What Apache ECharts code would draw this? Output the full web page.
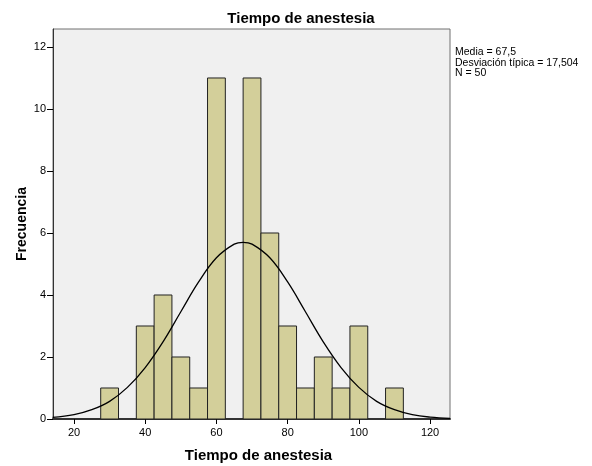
<!DOCTYPE html>
<html>
<head lang="es">
    <meta charset="UTF-8">
    <title>Tiempo de anestesia</title>
    <script src="https://cdn.jsdelivr.net/npm/echarts@6/dist/echarts.min.js"></script>
    <style>
        html, body { margin: 0; padding: 0; background: #fff; }
        #hist { width: 592px; height: 466px; }
    </style>
</head>
<body>
<div id="hist"></div>
<script>
    // histogram bins (lower edge, upper edge) and counts
    var binLo = [27.5, 37.5, 42.5, 47.5, 52.5, 57.5, 67.5, 72.5, 77.5, 82.5, 87.5, 92.5, 97.5, 107.5];
    var binHi = [32.5, 42.5, 47.5, 52.5, 57.5, 62.5, 72.5, 77.5, 82.5, 87.5, 92.5, 97.5, 102.5, 112.5];
    var counts = [1, 3, 4, 2, 1, 11, 11, 6, 3, 1, 2, 1, 3, 1];

    // normal curve
    var curveX = [14, 20, 25, 30, 35, 40, 45, 50, 55, 60, 65, 67.5, 70, 75, 80, 85, 90, 95, 100, 105, 110, 115, 120, 125.6];
    var curveY = [0.05, 0.14, 0.30, 0.57, 1.02, 1.66, 2.49, 3.46, 4.42, 5.20, 5.64, 5.70, 5.64, 5.20, 4.42, 3.46, 2.49, 1.66, 1.02, 0.57, 0.30, 0.14, 0.06, 0.02];

    var xTicks = [20, 40, 60, 80, 100, 120];
    var statsLines = ['Media = 67,5', 'Desviación típica = 17,504', 'N = 50'];

    var barData = [];
    counts.forEach(function(c, i){
        barData.push([binLo[i], binHi[i], c]);
    });
    var lineData = [];
    curveX.forEach(function(x, i){
        lineData.push([x, curveY[i]]);
    });

    var chart = echarts.init(document.getElementById('hist'));
    var option = {
        animation: false,
        textStyle: { fontFamily: 'Liberation Sans, Arial, sans-serif' },
        title: {
            text: 'Tiempo de anestesia',
            left: 296, top: 6, textAlign: 'center',
            textStyle: { fontSize: 15, fontWeight: 'bold', color: '#000' }
        },
        graphic: [{
            type: 'text', left: 455, top: 47,
            style: { text: statsLines.join('\n'), fontSize: 10.5, lineHeight: 10.5, fill: '#000', fontFamily: 'Liberation Sans, Arial, sans-serif' }
        }],
        grid: {
            left: 53, top: 29, right: 142, bottom: 47,
            outerBoundsMode: 'none',
            show: true, backgroundColor: '#f0f0f0', borderColor: '#707070', borderWidth: 1
        },
        xAxis: {
            type: 'value', min: 14.1, max: 125.6,
            name: 'Tiempo de anestesia', nameLocation: 'middle', nameGap: 29,
            nameTextStyle: { fontSize: 15, fontWeight: 'bold', color: '#000', padding: [0, 0, 0, 14] },
            splitLine: { show: false },
            axisLine: { lineStyle: { color: '#333', width: 2 } },
            axisTick: { customValues: xTicks, length: 5, lineStyle: { color: '#000' } },
            axisLabel: { customValues: xTicks, fontSize: 11, color: '#000', margin: 8 }
        },
        yAxis: {
            type: 'value', min: 0, max: 12.58, interval: 2,
            name: 'Frecuencia', nameLocation: 'middle', nameGap: 24,
            nameMoveOverlap: false,
            nameTextStyle: { fontSize: 14, fontWeight: 'bold', color: '#000' },
            splitLine: { show: false },
            axisLine: { show: true, lineStyle: { color: '#333' } },
            axisTick: { show: true, inside: false, length: 6, lineStyle: { color: '#000' } },
            axisLabel: { fontSize: 11, color: '#000', margin: 7, showMaxLabel: false }
        },
        series: [{
            type: 'custom',
            data: barData,
            encode: { x: [0, 1], y: 2 },
            renderItem: function(params, api){
                var p0 = api.coord([api.value(0), api.value(2)]);
                var p1 = api.coord([api.value(1), 0]);
                return {
                    type: 'rect',
                    shape: { x: p0[0], y: p0[1], width: p1[0] - p0[0], height: p1[1] - p0[1] },
                    style: { fill: '#d3cf9a', stroke: '#222', lineWidth: 1 }
                };
            }
        }, {
            type: 'line',
            data: lineData,
            smooth: 0.4,
            showSymbol: false,
            lineStyle: { color: '#000', width: 1.3 }
        }]
    };
    chart.setOption(option);
</script>
</body>
</html>
